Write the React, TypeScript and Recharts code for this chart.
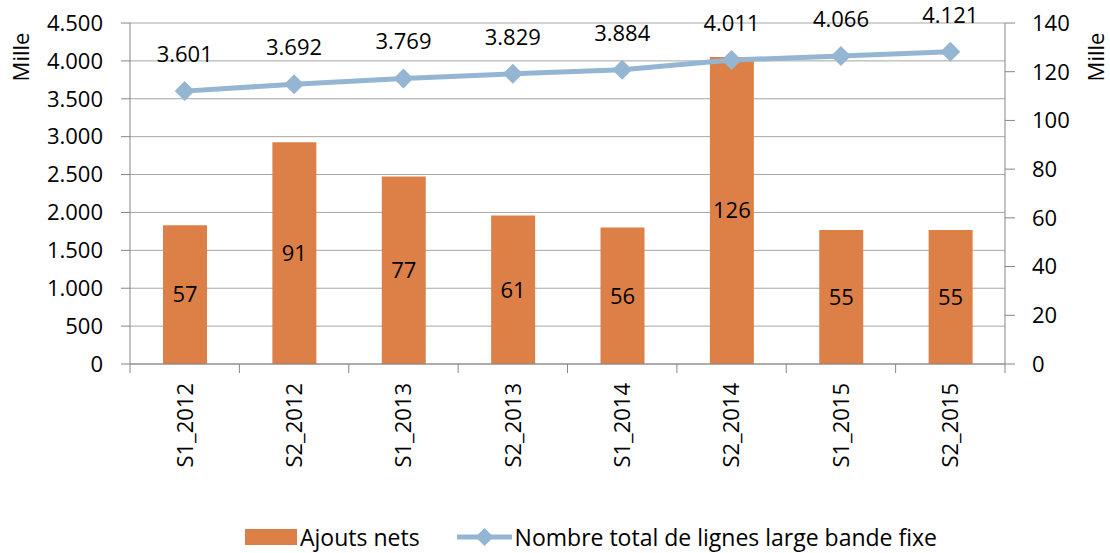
import React from "react";
import {
    ComposedChart,
    Bar,
    Line,
    XAxis,
    YAxis,
    CartesianGrid,
    Legend,
    LabelList,
} from "recharts";

const periods = ["S1_2012", "S2_2012", "S1_2013", "S2_2013", "S1_2014", "S2_2014", "S1_2015", "S2_2015"];
const netAdds = [57, 91, 77, 61, 56, 126, 55, 55];
const totalLines = [3601, 3692, 3769, 3829, 3884, 4011, 4066, 4121];
const leftTicks = [0, 500, 1000, 1500, 2000, 2500, 3000, 3500, 4000, 4500];
const rightTicks = [0, 20, 40, 60, 80, 100, 120, 140];

const BAR_COLOR = "#DD8047";
const LINE_COLOR = "#94B6D2";
const AXIS_COLOR = "#868686";
const GRID_COLOR = "#A6A6A6";
const FONT = "'Open Sans', sans-serif";
const FS = 22;

const data = periods.map((p, i) => ({ period: p, ajouts: netAdds[i], total: totalLines[i] }));

// 3601 -> "3.601"
const fmt = (v: number) => String(v).replace(/\B(?=(\d{3})+(?!\d))/g, ".");

const Diamond = ({ cx, cy, half = 10 }: any) => {
    if (cx == null || cy == null) return null;
    const h = half;
    return <path d={`M${cx},${cy - h}L${cx + h},${cy}L${cx},${cy + h}L${cx - h},${cy}Z`} fill={LINE_COLOR} />;
};

const renderDot = (props: any) => <Diamond key={`dot-${props.index}`} cx={props.cx} cy={props.cy} half={10} />;

const CategoryTick = (props: any) => {
    const { x, y, payload, index, visibleTicksCount } = props;
    const half = payload.offset || 54.7;
    return (
        <g>
            <line x1={x - half} x2={x - half} y1={y} y2={y + 9} stroke={AXIS_COLOR} />
            {index === visibleTicksCount - 1 && (
                <line x1={x + half} x2={x + half} y1={y} y2={y + 9} stroke={AXIS_COLOR} />
            )}
            <text
                x={x}
                y={y + 19}
                transform={`rotate(-90, ${x}, ${y + 19})`}
                textAnchor="end"
                dy="0.36em"
                fontFamily={FONT}
                fontSize={FS}
                fill="#000"
            >
                {payload.value}
            </text>
        </g>
    );
};

const MilleLabel = (dx: number) => (props: any) => {
    const { viewBox } = props;
    const cx = viewBox.x + dx;
    const cy = viewBox.y + 34;
    return (
        <text
            x={cx}
            y={cy}
            transform={`rotate(-90, ${cx}, ${cy})`}
            textAnchor="middle"
            dominantBaseline="central"
            fontFamily={FONT}
            fontSize={FS}
            fill="#000"
        >
            Mille
        </text>
    );
};

const LineValueLabel = (props: any) => {
    const { x, y, value } = props;
    return (
        <text x={x} y={y - 29} textAnchor="middle" fontFamily={FONT} fontSize={FS} fill="#000">
            {fmt(value)}
        </text>
    );
};

const LegendBox = () => (
    <div
        style={{
            height: 32,
            display: "flex",
            alignItems: "center",
            paddingLeft: 245,
            fontFamily: FONT,
            fontSize: 23,
            color: "#000",
            boxSizing: "border-box",
        }}
    >
        <span style={{ width: 52, height: 16, background: BAR_COLOR, display: "inline-block", marginRight: 3 }} />
        <span style={{ marginRight: 37 }}>Ajouts nets</span>
        <svg width={55} height={20} style={{ marginRight: 3 }}>
            <line x1={0} x2={55} y1={10} y2={10} stroke={LINE_COLOR} strokeWidth={5} />
            <Diamond cx={27.5} cy={10} half={9} />
        </svg>
        <span>Nombre total de lignes large bande fixe</span>
    </div>
);

export default function App() {
    return (
        <div style={{ position: "absolute", left: 0, top: 0, width: 1110, height: 553, background: "#fff" }}>
            <ComposedChart width={1110} height={553} data={data} margin={{ top: 23, right: 0, left: 0, bottom: 0 }}>
                <CartesianGrid yAxisId="left" vertical={false} stroke={GRID_COLOR} />
                <XAxis
                    dataKey="period"
                    height={157}
                    interval={0}
                    tickLine={false}
                    tickSize={0}
                    tickMargin={0}
                    stroke={AXIS_COLOR}
                    tick={<CategoryTick />}
                />
                <YAxis
                    yAxisId="left"
                    orientation="left"
                    width={130}
                    domain={[0, 4500]}
                    ticks={leftTicks}
                    interval={0}
                    tickFormatter={fmt}
                    tickSize={9}
                    tickMargin={18}
                    stroke={AXIS_COLOR}
                    tick={{ fill: "#000", fontSize: FS, fontFamily: FONT }}
                    label={MilleLabel(20)}
                />
                <YAxis
                    yAxisId="right"
                    orientation="right"
                    width={105}
                    domain={[0, 140]}
                    ticks={rightTicks}
                    interval={0}
                    tickSize={10}
                    tickMargin={17}
                    stroke={AXIS_COLOR}
                    tick={{ fill: "#000", fontSize: FS, fontFamily: FONT }}
                    label={MilleLabel(90)}
                />
                <Legend verticalAlign="bottom" content={<LegendBox />} wrapperStyle={{ left: 0, width: 1110 }} />
                <Bar yAxisId="right" dataKey="ajouts" name="Ajouts nets" fill={BAR_COLOR} barSize={44} isAnimationActive={false}>
                    <LabelList dataKey="ajouts" position="center" fill="#000" fontSize={FS} fontFamily={FONT} />
                </Bar>
                <Line
                    yAxisId="left"
                    dataKey="total"
                    name="Nombre total de lignes large bande fixe"
                    stroke={LINE_COLOR}
                    strokeWidth={5}
                    dot={renderDot}
                    activeDot={false}
                    isAnimationActive={false}
                >
                    <LabelList dataKey="total" content={<LineValueLabel />} />
                </Line>
            </ComposedChart>
        </div>
    );
}
